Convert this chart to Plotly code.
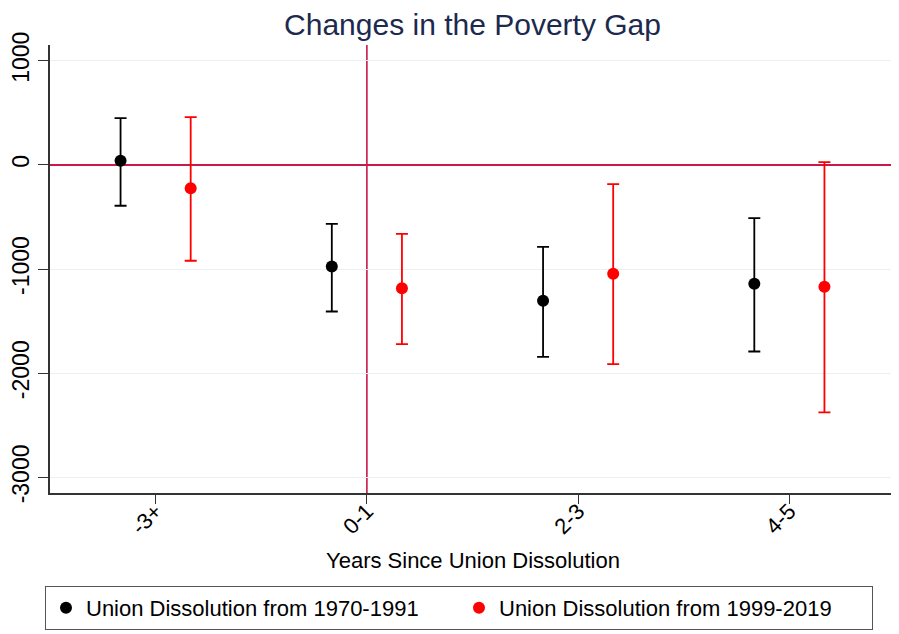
import plotly.graph_objects as go

# ---- data ----
categories = ["-3+", "0-1", "2-3", "4-5"]
series_names = ["Union Dissolution from 1970-1991", "Union Dissolution from 1999-2019"]

est_early = [38, -976, -1305, -1142]
lo_early = [-393, -1408, -1843, -1792]
hi_early = [448, -566, -787, -512]

est_late = [-224, -1184, -1046, -1171]
lo_late = [-921, -1721, -1913, -2377]
hi_late = [458, -662, -185, 26]

y_ticks = [1000, 0, -1000, -2000, -3000]

# ---- styling ----
FONT = "Liberation Sans, Arial, Helvetica, sans-serif"
REF_COLOR = "#c8194a"
OFFSET = 0.166
PAGE = 8  # default body margin of the html page
W, H = 899, 634
base_x = list(range(1, len(categories) + 1))

fig = go.Figure()


def add_series(name, est, lo, hi, color, offset):
    fig.add_trace(go.Scatter(
        x=[b + offset for b in base_x],
        y=est,
        mode="markers",
        name=name,
        marker=dict(color=color, size=12),
        error_y=dict(
            type="data",
            symmetric=False,
            array=[h - e for h, e in zip(hi, est)],
            arrayminus=[e - l for e, l in zip(est, lo)],
            color=color,
            thickness=1.8,
            width=6,
        ),
    ))


add_series(series_names[0], est_early, lo_early, hi_early, "#000000", -OFFSET)
add_series(series_names[1], est_late, lo_late, hi_late, "#ff0000", OFFSET)

# vertical reference line at the "0-1" category
fig.add_shape(type="line", xref="x", yref="paper", x0=2, x1=2, y0=0, y1=1,
              line=dict(color=REF_COLOR, width=1.6), layer="below")

plot_top, plot_bottom = 45 - PAGE, 493 - PAGE
plot_left, plot_right = 50 - PAGE, 895 - PAGE
plot_h = plot_bottom - plot_top

fig.add_annotation(
    text="Years Since Union Dissolution",
    xref="paper", yref="paper", x=0.5, xanchor="center",
    y=(plot_bottom - (560 - PAGE)) / plot_h, yanchor="middle",
    showarrow=False, font=dict(family=FONT, size=22, color="#000000"),
)

fig.update_layout(
    width=W,
    height=H,
    margin=dict(l=plot_left, r=W - plot_right, t=plot_top, b=H - plot_bottom),
    paper_bgcolor="white",
    plot_bgcolor="white",
    font=dict(family=FONT, color="#000000"),
    title=dict(
        text="Changes in the Poverty Gap",
        font=dict(family=FONT, size=30, color="#1c2a4e"),
        x=0.5, xref="paper", xanchor="center",
        y=1 - 6 / H, yref="container", yanchor="top",
    ),
    showlegend=True,
    legend=dict(
        orientation="h",
        x=(45 - PAGE) / W, xref="container", xanchor="left",
        y=1 - (586 - PAGE) / H, yref="container", yanchor="top",
        font=dict(family=FONT, size=22, color="#000000"),
        bordercolor="#555555",
        borderwidth=1,
        entrywidth=368,
        entrywidthmode="pixels",
        itemwidth=30,
    ),
    xaxis=dict(
        range=[0.5, 4.5],
        automargin=False,
        tickmode="array",
        tickvals=base_x,
        ticktext=categories,
        tickangle=-45,
        tickfont=dict(family=FONT, size=22),
        ticklabelstandoff=-14,
        ticks="outside",
        ticklen=9,
        tickwidth=1.2,
        tickcolor="#333333",
        showline=True,
        linecolor="#333333",
        linewidth=1.5,
        showgrid=False,
        zeroline=False,
    ),
    yaxis=dict(
        range=[-3150, 1150],
        automargin=False,
        tickmode="array",
        tickvals=y_ticks,
        ticktext=[str(v) for v in y_ticks],
        tickangle=-90,
        tickfont=dict(family=FONT, size=23),
        ticks="outside",
        ticklen=10,
        tickwidth=1.2,
        tickcolor="#333333",
        showline=True,
        linecolor="#333333",
        linewidth=1.5,
        showgrid=True,
        gridcolor="#eaf0f3",
        gridwidth=1.2,
        zeroline=True,
        zerolinecolor=REF_COLOR,
        zerolinewidth=2,
    ),
)

fig.write_html("out.html")
